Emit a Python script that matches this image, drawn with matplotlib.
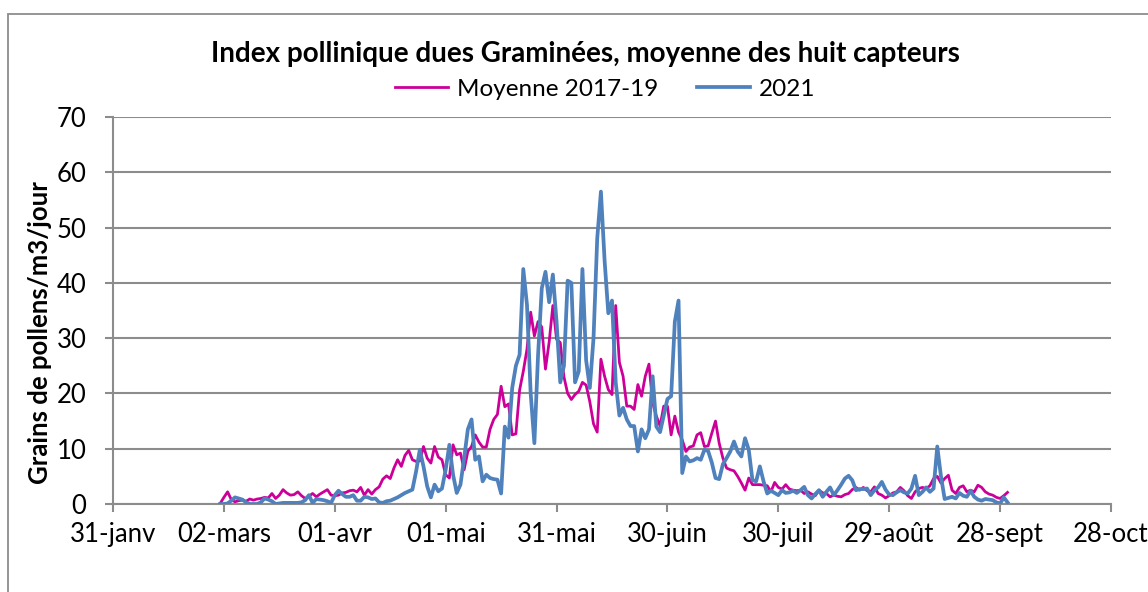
import matplotlib
matplotlib.use("Agg")
import matplotlib.pyplot as plt
import pandas as pd
from matplotlib.patches import Rectangle

# ── data ─────────────────────────────────────────────────────────────────────
# daily values, 1 March -> 30 September 2021
START = "2021-03-01"

moyenne_2017_19 = [
    0.1, 1.2, 2.2, 0.8, 0.4, 0.6, 0.7, 0.5, 0.9, 0.7,      # 01-10 mars
    0.9, 1.0, 1.2, 1.1, 1.9, 1.0, 1.6, 2.6, 2.0, 1.6,
    1.7, 2.2, 1.5, 1.0, 1.4, 1.9, 1.3, 1.8, 2.2, 2.6,
    1.6,                                                    # 31 mars
    1.5, 1.6, 2.0, 2.1, 2.4, 2.5, 2.2, 3.0, 1.6, 2.6,      # avril
    1.8, 2.6, 3.1, 4.5, 5.1, 4.6, 6.5, 8.0, 6.8, 8.8,
    9.7, 8.0, 7.7, 7.8, 10.4, 8.3, 7.4, 10.4, 8.5, 8.0,
    5.3, 4.7, 10.7, 8.9, 9.2, 6.2, 9.5, 10.4, 12.5, 11.2,  # mai
    10.3, 10.3, 13.5, 15.3, 16.2, 21.3, 17.6, 18.1, 12.5, 12.7,
    20.6, 24.0, 28.0, 34.7, 30.4, 33.0, 32.0, 24.4, 29.3, 35.9,
    29.8,
    29.2, 23.0, 20.0, 18.9, 19.8, 20.4, 22.0, 21.5, 18.5, 14.5,  # juin
    13.0, 26.2, 23.1, 20.7, 19.8, 35.9, 25.6, 23.1, 17.7, 17.7,
    17.1, 21.6, 19.5, 23.1, 25.3, 18.3, 15.9, 14.1, 17.7, 17.7,
    12.5, 15.9, 13.0, 11.6, 9.5, 10.3, 10.5, 12.5, 12.9, 10.4,   # juillet
    10.5, 12.8, 15.0, 11.0, 8.3, 6.5, 6.2, 6.0, 5.0, 3.8,
    2.5, 4.7, 3.5, 3.5, 3.5, 3.4, 3.3, 2.2, 3.9, 3.0,
    2.7,
    3.5, 2.7, 2.5, 2.4, 2.5, 1.9, 2.2, 1.8, 1.5, 2.5,      # août
    2.0, 1.9, 1.3, 1.6, 1.4, 1.3, 1.7, 1.9, 2.6, 3.0,
    2.5, 3.0, 2.4, 2.2, 3.1, 1.9, 1.6, 1.1, 1.5, 2.0,
    2.2,
    3.0, 2.4, 1.5, 1.0, 2.2, 2.8, 3.0, 2.8, 3.3, 4.6,      # septembre
    5.0, 3.8, 4.6, 5.2, 2.5, 1.9, 3.0, 3.3, 2.2, 2.5,
    2.2, 3.4, 3.0, 2.2, 1.8, 1.6, 1.2, 1.0, 1.5, 2.1,
]

annee_2021 = [
    0.0, 0.0, 0.1, 0.6, 1.2, 1.0, 0.8, 0.3, 0.0, 0.0,      # 01-10 mars
    0.0, 0.3, 1.0, 0.8, 0.5, 0.0, 0.1, 0.2, 0.2, 0.2,
    0.2, 0.2, 0.3, 0.7, 1.6, 0.2, 0.9, 0.8, 0.7, 0.5,
    0.2,                                                    # 31 mars
    1.6, 2.4, 1.8, 1.3, 1.3, 1.6, 0.6, 0.6, 1.3, 1.2,      # avril
    0.9, 1.0, 0.3, 0.2, 0.5, 0.6, 0.9, 1.2, 1.6, 2.0,
    2.3, 2.6, 5.9, 9.8, 6.8, 3.2, 1.2, 3.5, 2.3, 2.8,
    6.2, 10.7, 5.3, 2.0, 3.5, 8.3, 13.5, 15.3, 8.0, 8.6,   # mai
    4.1, 5.3, 4.7, 4.5, 4.4, 1.9, 14.0, 12.0, 21.0, 25.0,
    27.0, 42.5, 36.0, 20.0, 11.0, 27.0, 39.0, 42.0, 36.5, 41.5,
    33.0,
    22.0, 25.0, 40.4, 40.0, 22.0, 24.0, 42.5, 26.0, 21.0, 30.0,  # juin
    48.0, 56.5, 44.0, 34.5, 36.8, 22.0, 16.0, 17.4, 15.3, 14.1,
    14.1, 9.5, 13.5, 11.9, 13.5, 23.1, 14.0, 13.0, 16.0, 19.0,
    19.5, 33.0, 36.8, 5.6, 8.6, 7.7, 7.9, 8.3, 8.0, 9.8,   # juillet
    9.6, 7.5, 4.7, 4.5, 7.2, 8.3, 9.5, 11.3, 9.5, 8.6,
    11.9, 9.8, 4.3, 4.1, 6.8, 4.1, 1.9, 2.4, 2.0, 1.6,
    2.5,
    2.0, 2.1, 2.4, 2.0, 2.5, 3.1, 1.6, 1.0, 1.8, 2.5,      # août
    1.3, 2.2, 3.0, 1.6, 2.5, 3.5, 4.6, 5.1, 4.3, 2.5,
    2.7, 2.7, 2.8, 1.6, 2.5, 3.0, 4.0, 2.6, 1.7, 1.6,
    2.1,
    2.5, 2.1, 1.9, 2.8, 5.1, 1.6, 2.2, 3.0, 2.2, 2.8,      # septembre
    10.4, 5.0, 0.9, 1.1, 1.3, 1.0, 2.0, 1.5, 1.3, 2.4,
    1.3, 0.8, 0.6, 0.9, 0.8, 0.7, 0.3, 0.1, 1.2, 0.3,
]

X_TICK_LABELS = ["31-janv", "02-mars", "01-avr", "01-mai", "31-mai",
                 "30-juin", "30-juil", "29-août", "28-sept", "28-oct"]
Y_TICKS = list(range(0, 71, 10))

TITLE = "Index pollinique dues Graminées, moyenne des huit capteurs"
Y_LABEL = "Grains de pollens/m3/jour"

MAGENTA = "#CC0099"
BLUE = "#4F81BD"
GRID = "#8C8C8C"

# ── plot ─────────────────────────────────────────────────────────────────────
plt.rcParams["font.family"] = ["Lato", "DejaVu Sans"]

dates = pd.date_range(START, periods=len(moyenne_2017_19), freq="D")
dates21 = pd.date_range(START, periods=len(annee_2021), freq="D")
tick_dates = pd.date_range("2021-01-31", periods=len(X_TICK_LABELS), freq="30D")

fig = plt.figure(figsize=(11.48, 5.92), dpi=100)
ax = fig.add_axes([113 / 1148, 1 - 504 / 592, (1111 - 113) / 1148, (504 - 117) / 592])

ax.plot(dates, moyenne_2017_19, color=MAGENTA, lw=2.0, solid_joinstyle="round",
        label="Moyenne 2017-19", zorder=3)
ax.plot(dates21, annee_2021, color=BLUE, lw=2.7, solid_joinstyle="round",
        label="2021", zorder=4)

ax.set_xlim(tick_dates[0], tick_dates[-1])
ax.set_ylim(0, 70)
ax.set_xticks(tick_dates)
ax.set_xticklabels(X_TICK_LABELS)
ax.set_yticks(Y_TICKS)

ax.yaxis.grid(True, color=GRID, lw=1.5)
ax.set_axisbelow(True)
for side in ["top", "right"]:
    ax.spines[side].set_visible(False)
for side in ["left", "bottom"]:
    ax.spines[side].set_color(GRID)
    ax.spines[side].set_linewidth(1.5)
ax.tick_params(axis="both", colors=GRID, width=1.5, length=6, labelsize=18.5,
               labelcolor="black")
ax.tick_params(axis="x", pad=7)
ax.tick_params(axis="y", pad=13)

ax.set_ylabel(Y_LABEL, fontsize=18.5, fontweight="bold", va="center")
ax.yaxis.set_label_coords((40 - 113) / 998, (504 - 333) / 387)
fig.text(585 / 1148, 1 - 54 / 592, TITLE, fontsize=20, fontweight="bold",
         ha="center", va="center")

ax.legend(loc="center", bbox_to_anchor=(605 / 1148, 1 - 89 / 592),
          bbox_transform=fig.transFigure, ncol=2, frameon=False, fontsize=17.5,
          handlelength=2.2, handletextpad=0.35, columnspacing=1.6,
          borderpad=0, borderaxespad=0)

# outer chart border
fig.patches.append(Rectangle((8 / 1148, -0.1), 1.2, 1 - 14 / 592 + 0.1,
                             transform=fig.transFigure, fill=False,
                             edgecolor="#8C8C8C", lw=1.3))

fig.savefig("out.png", dpi=100)
